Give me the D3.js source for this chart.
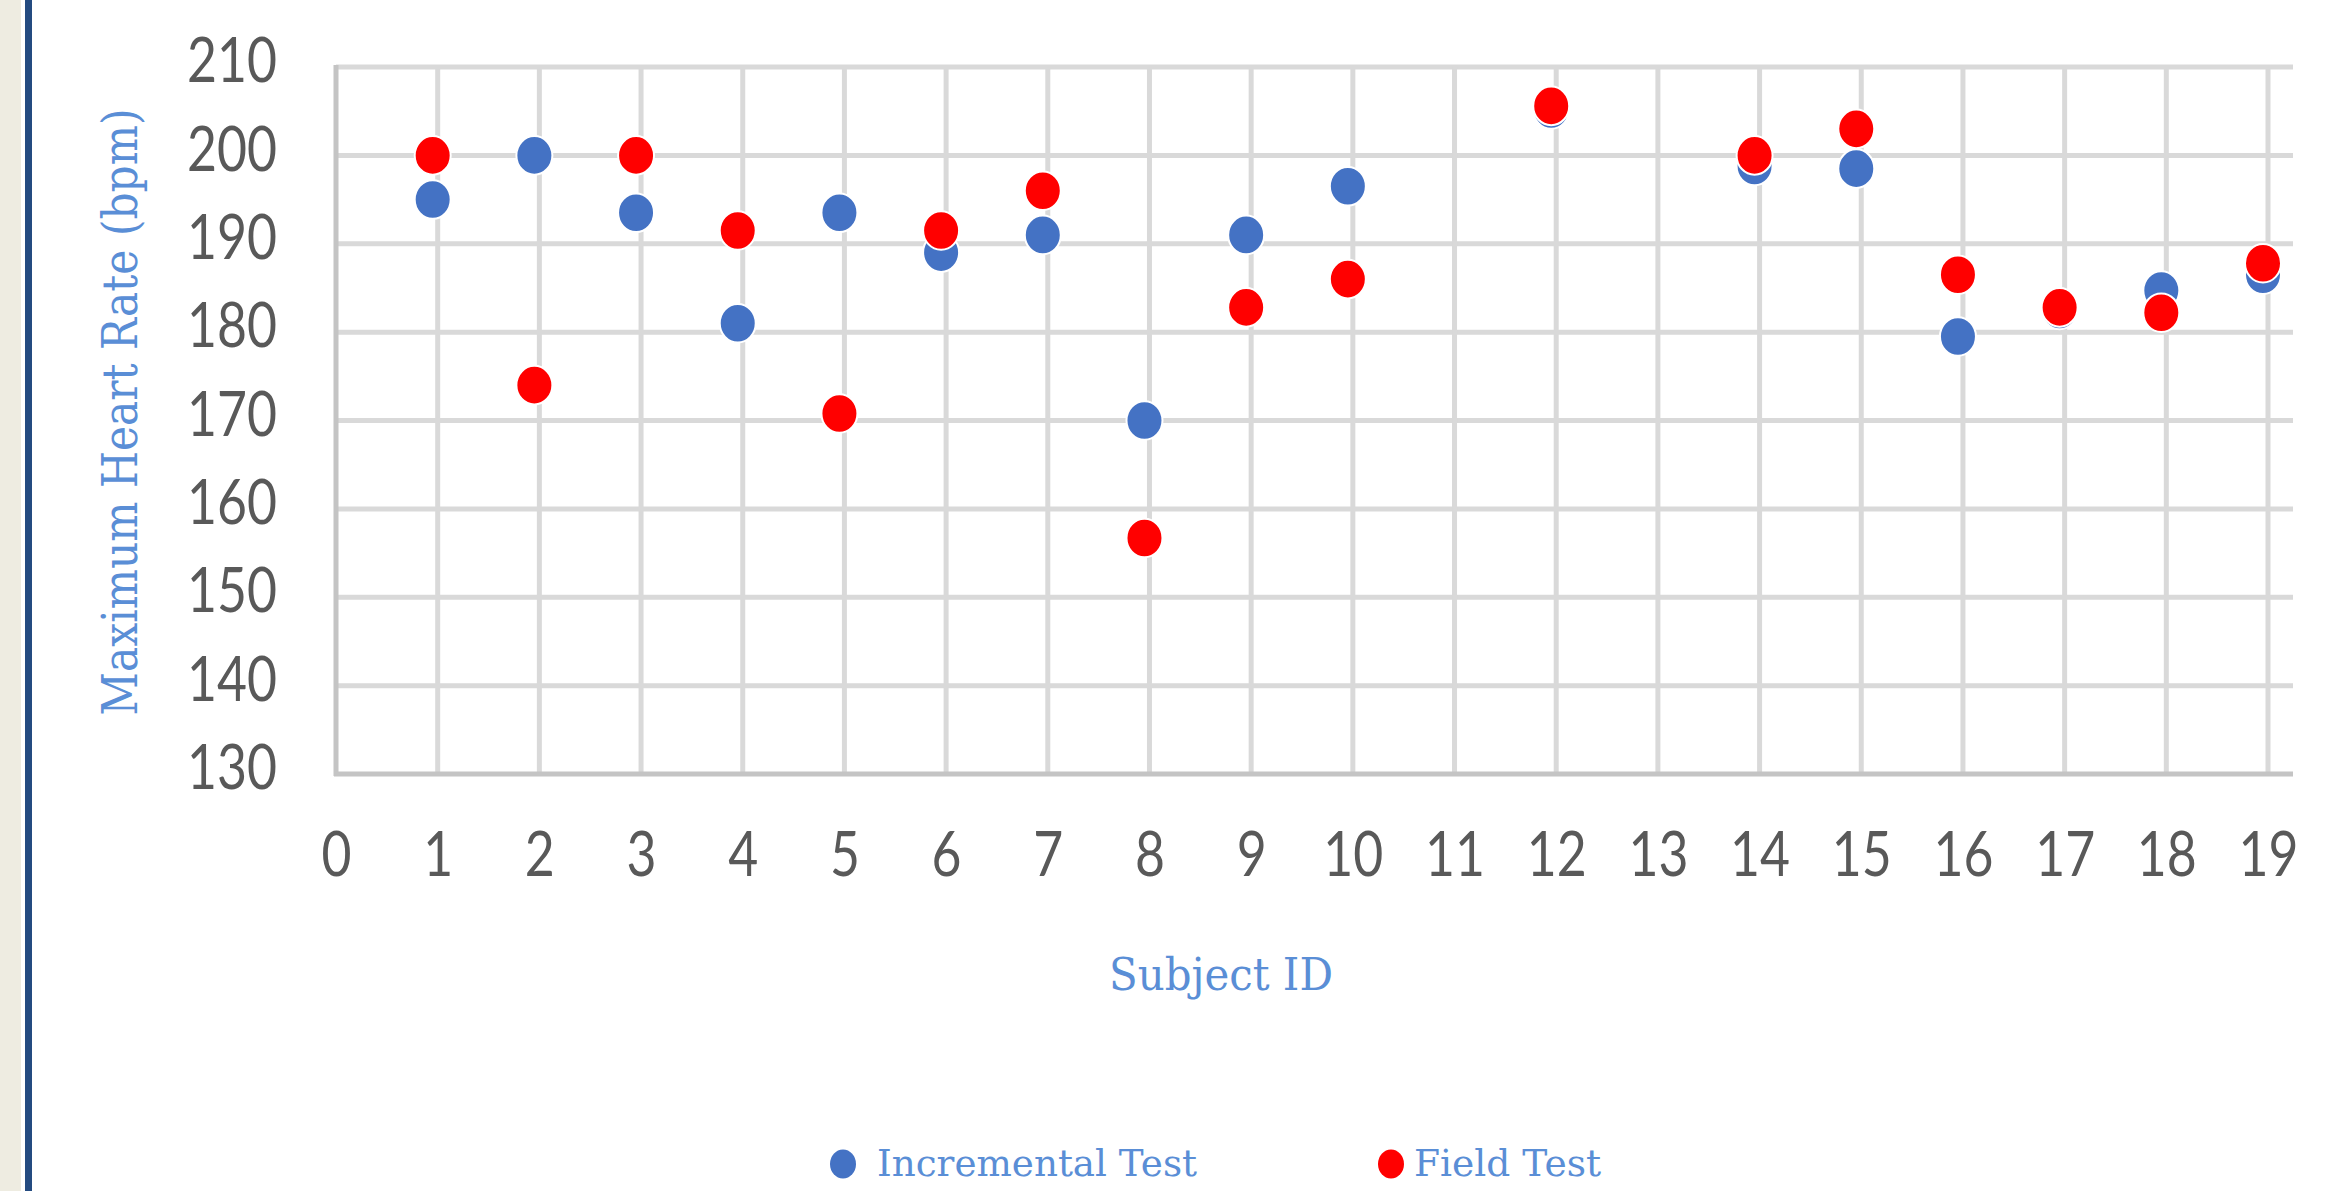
<!DOCTYPE html>
<html>
<head>
<meta charset="utf-8">
<script src="https://cdn.jsdelivr.net/npm/d3@7"></script>
<style>
  body { margin: 0; background: #fff; }
  svg { display: block; }
</style>
</head>
<body>
<div id="chart"></div>
<script>

// values
var subject_ids = [1, 2, 3, 4, 5, 6, 7, 8, 9, 10, 12, 14, 15, 16, 17, 18, 19];
var incremental = [195, 200, 193.5, 181, 193.5, 189, 191, 170, 191, 196.5, 205.2, 198.8, 198.5, 179.5, 182.5, 184.7, 186.5];
var field_test  = [200, 174, 200, 191.5, 170.8, 191.5, 196, 156.7, 182.8, 186, 205.6, 200, 203, 186.5, 182.8, 182.2, 187.8];

var x_ticks = [0, 1, 2, 3, 4, 5, 6, 7, 8, 9, 10, 11, 12, 13, 14, 15, 16, 17, 18, 19];
var y_ticks = [130, 140, 150, 160, 170, 180, 190, 200, 210];

var series_names  = ["Incremental Test", "Field Test"];
var series_colors = ["#4472c4", "#ff0000"];


var width = 2350, height = 1191;
var plot = {left: 336, right: 2293, top: 67, bottom: 774};

var svg = d3.select("#chart").append("svg")
    .attr("width", width)
    .attr("height", height);

svg.append("rect").attr("width", width).attr("height", height).attr("fill", "#fff");

// slide frame on the left
svg.append("rect").attr("x", 0).attr("y", 0).attr("width", 21).attr("height", height).attr("fill", "#eeece1");
svg.append("rect").attr("x", 25).attr("y", 0).attr("width", 7).attr("height", height).attr("fill", "#244b80");


var x = d3.scaleLinear()
    .domain([0, 19])
    .range([plot.left, 2268]);
var y = d3.scaleLinear()
    .domain([130, 210])
    .range([plot.bottom, plot.top]);


// grid
svg.append("g").selectAll("line")
    .data(y_ticks.slice(1))
    .enter().append("line")
    .attr("x1", plot.left).attr("x2", plot.right)
    .attr("y1", function(d) { return y(d); })
    .attr("y2", function(d) { return y(d); })
    .attr("stroke", "#d9d9d9")
    .attr("stroke-width", 5);

svg.append("g").selectAll("line")
    .data(x_ticks.slice(1))
    .enter().append("line")
    .attr("x1", function(d) { return x(d); })
    .attr("x2", function(d) { return x(d); })
    .attr("y1", plot.top).attr("y2", plot.bottom)
    .attr("stroke", "#d9d9d9")
    .attr("stroke-width", 5);

// axis lines
svg.append("line")
    .attr("x1", plot.left).attr("x2", plot.left)
    .attr("y1", plot.top - 2).attr("y2", plot.bottom + 2)
    .attr("stroke", "#c4c4c4").attr("stroke-width", 5);
svg.append("line")
    .attr("x1", plot.left - 2).attr("x2", plot.right)
    .attr("y1", plot.bottom).attr("y2", plot.bottom)
    .attr("stroke", "#c4c4c4").attr("stroke-width", 5);


// tick labels
var yAxis = svg.append("g")
    .attr("transform", "translate(" + plot.left + ",0)")
    .call(d3.axisLeft(y).tickValues(y_ticks).tickSize(0).tickPadding(59));

var xAxis = svg.append("g")
    .attr("transform", "translate(0," + plot.bottom + ")")
    .call(d3.axisBottom(x).tickValues(x_ticks).tickSize(0).tickPadding(59));

[yAxis, xAxis].forEach(function(ax) {
    ax.select(".domain").remove();
    ax.selectAll("text")
        .attr("fill", "#595959")
        .style("font-family", "Lato, 'Open Sans', sans-serif")
        .style("font-size", "61px")
        .attr("textLength", function(d) { return String(d).length * 30; })
        .attr("lengthAdjust", "spacingAndGlyphs");
});
yAxis.selectAll("text").attr("dy", "0.24em");


// points, field test drawn over incremental
// (markers sit a few px left of the gridlines in the original)
var series = [incremental, field_test];
series.forEach(function(vals, k) {
    svg.append("g")
        .attr("transform", "translate(-5,0)")
        .selectAll("ellipse")
        .data(subject_ids)
        .enter().append("ellipse")
        .attr("cx", function(d) { return x(d); })
        .attr("cy", function(d, i) { return y(vals[i]); })
        .attr("rx", 18)
        .attr("ry", 19.3)
        .attr("fill", series_colors[k])
        .attr("stroke", "#fff")
        .attr("stroke-width", 2);
});


// titles
var titleColor = "#5a8ed6";
var serif = "'DejaVu Serif', serif";

svg.append("text")
    .attr("transform", "translate(137,412) rotate(-90)")
    .attr("text-anchor", "middle")
    .attr("fill", titleColor)
    .style("font-family", serif)
    .style("font-size", "48px")
    .attr("textLength", 607)
    .attr("lengthAdjust", "spacingAndGlyphs")
    .text("Maximum Heart Rate (bpm)");

svg.append("text")
    .attr("x", 1221).attr("y", 990)
    .attr("text-anchor", "middle")
    .attr("fill", titleColor)
    .style("font-family", serif)
    .style("font-size", "45px")
    .attr("textLength", 224)
    .attr("lengthAdjust", "spacingAndGlyphs")
    .text("Subject ID");


// legend
var legend_x = [843, 1391], legend_len = [320, 187];
var legend = svg.append("g").selectAll("g")
    .data(series_names)
    .enter().append("g")
    .attr("transform", function(d, i) { return "translate(" + legend_x[i] + ",1164)"; });

legend.append("ellipse")
    .attr("rx", 13).attr("ry", 14.5)
    .attr("fill", function(d, i) { return series_colors[i]; });

legend.append("text")
    .attr("x", function(d, i) { return i == 0 ? 34 : 23; })
    .attr("y", 12)
    .attr("fill", titleColor)
    .style("font-family", serif)
    .style("font-size", "38px")
    .attr("textLength", function(d, i) { return legend_len[i]; })
    .attr("lengthAdjust", "spacingAndGlyphs")
    .text(function(d) { return d; });

</script>
</body>
</html>
